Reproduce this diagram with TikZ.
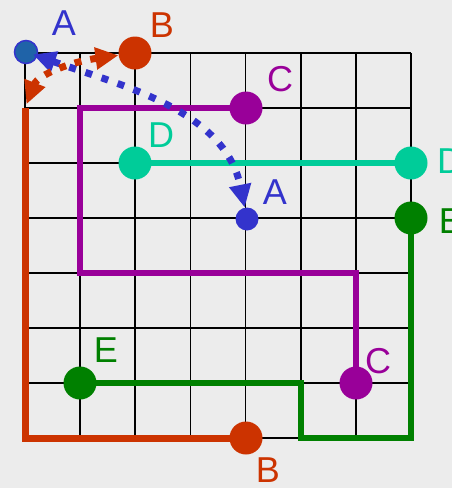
\documentclass[tikz,border=0pt]{standalone}
\usepackage{fontspec}
\setmainfont{Liberation Sans}
\usetikzlibrary{arrows.meta}
\definecolor{bg}{HTML}{ECECEC}
\definecolor{cblue}{HTML}{3333CC}
\definecolor{cbluefill}{HTML}{1F63A8}
\definecolor{cred}{HTML}{CC3300}
\definecolor{cpurple}{HTML}{990099}
\definecolor{cteal}{HTML}{00CC99}
\definecolor{cgreen}{HTML}{008000}
\tikzset{
  gridline/.style={black, line width=1.8pt},
  dotbig/.style={circle, inner sep=0pt, minimum size=33pt},
  dotsmall/.style={circle, inner sep=0pt, minimum size=23pt},
  lab/.style={inner sep=0pt, font=\fontsize{36}{36}\selectfont},
  route/.style={line width=6pt},
  mytip/.tip={Triangle[length=23pt,width=21pt]},
  bluedots/.style={cblue, line width=7pt, dash pattern=on 7pt off 10pt},
  reddots/.style={cred, line width=7pt, dash pattern=on 7pt off 9pt},
}
\begin{document}
\begin{tikzpicture}[x=1pt,y=-1pt]
\useasboundingbox (0,0) rectangle (452,488);
\fill[bg] (0,0) rectangle (452,488);
% grid
\foreach \i in {0,...,7} {
  \draw[gridline] ({25+55.14*\i},53) -- ({25+55.14*\i},438);
  \draw[gridline] (25,{53+55*\i}) -- (411,{53+55*\i});
}
% coordinates
\coordinate (redcorner) at (25,438);
\coordinate (redtop) at (25,108);
\coordinate (p1) at (80,108);
\coordinate (p2) at (80,273);
\coordinate (p3) at (356,273);
\coordinate (g1) at (411,438);
\coordinate (g2) at (301,438);
\coordinate (g3) at (301,383);
% point positions
\coordinate (A1) at (26,52);
\coordinate (B1) at (135,53);
\coordinate (C1) at (246,108);
\coordinate (D1) at (135,163);
\coordinate (D2) at (411,163);
\coordinate (A2) at (247,219);
\coordinate (E1) at (411,218);
\coordinate (E2) at (80,383);
\coordinate (C2) at (356,383);
\coordinate (B2) at (246,438);
% routes
\draw[route, cred, line width=7pt] (B2) -- (redcorner) -- (redtop);
\draw[route, cpurple, line width=5.5pt] (C1) -- (p1) -- (p2) -- (p3) -- (C2);
\draw[route, cteal] (D1) -- (D2);
\draw[route, cgreen] (E1) -- (g1) -- (g2) -- (g3) -- (E2);
% points on top
\node[dotsmall, draw=cblue, line width=1.5pt, fill=cbluefill] (nA1) at (A1) {};
\node[dotbig, fill=cred] (nB1) at (B1) {};
\node[dotbig, fill=cpurple] (nC1) at (C1) {};
\node[dotbig, fill=cteal] (nD1) at (D1) {};
\node[dotbig, fill=cteal] (nD2) at (D2) {};
\node[dotsmall, fill=cblue] (nA2) at (A2) {};
\node[dotbig, fill=cgreen] (nE1) at (E1) {};
\node[dotbig, fill=cgreen] (nE2) at (E2) {};
\node[dotbig, fill=cpurple] (nC2) at (C2) {};
\node[dotbig, fill=cred] (nB2) at (B2) {};
% dotted arrows
\draw[bluedots, {mytip}-{mytip}, shorten <=-5pt] (nA1) .. controls (120,85) and (225,110) .. (nA2);
\draw[reddots, {mytip}-{mytip}, shorten >=4pt] (nB1) .. controls (70,62) and (38,75) .. (redtop);
% labels
\node[lab, text=cblue] (lA1) at (64,23) {A};
\node[lab, text=cred] (lB1) at (162,25) {B};
\node[lab, text=cpurple] (lC1) at (280,79) {C};
\node[lab, text=cteal] (lD1) at (161,135) {D};
\node[lab, text=cteal] (lD2) at (450,161) {D};
\node[lab, text=cblue] (lA2) at (275,192) {A};
\node[lab, text=cgreen] (lE1) at (451,221) {E};
\node[lab, text=cgreen] (lE2) at (106,350) {E};
\node[lab, text=cpurple] (lC2) at (378,361) {C};
\node[lab, text=cred] (lB2) at (268,470) {B};
\end{tikzpicture}
\end{document}
